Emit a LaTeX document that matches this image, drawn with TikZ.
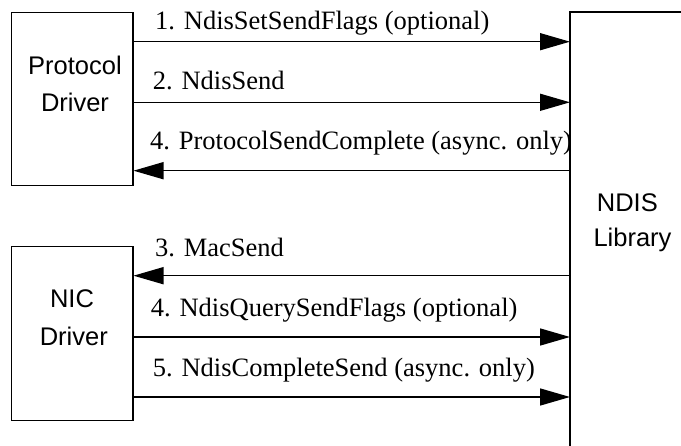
\documentclass[tikz,border=0pt]{standalone}
\usepackage{fontspec}
\setmainfont{Liberation Serif}
\newfontfamily\boxsans{Liberation Sans}
\usetikzlibrary{arrows.meta}
\begin{document}
\begin{tikzpicture}[x=1pt,y=-1pt,
  box/.style={draw, line width=1.5pt, inner sep=0pt, anchor=north west},
  call/.style={line width=1.5pt, -{Triangle[length=30pt,width=17pt]}},
  calltext/.style={anchor=base west, inner sep=0pt, font=\fontsize{26.5}{30}\selectfont},
  boxtext/.style={anchor=base, inner sep=0pt, font=\boxsans\fontsize{25.5}{30}\selectfont}]
\useasboundingbox (0,0) rectangle (681,446);

% the three components
\node[box, minimum width=121.3pt, minimum height=173.3pt] (pd) at (10.7,11.7) {};
\node[box, minimum width=121.3pt, minimum height=174pt] (nic) at (10.7,245.7) {};
\node[inner sep=0pt, anchor=north west, minimum width=120pt, minimum height=440pt] (ndis) at (570,12) {};
\draw[line width=1.5pt] (ndis.north east) -- (ndis.north west) -- (ndis.south west);

\node[boxtext] (pdA) at (75,75) {Protocol};
\node[boxtext] (pdB) at (75,111.7) {Driver};
\node[boxtext] (nicA) at (72,308) {NIC};
\node[boxtext] (nicB) at (73.8,345.7) {Driver};
\node[boxtext] (ndisA) at (627.3,211.7) {NDIS};
\node[boxtext] (ndisB) at (632.5,246.7) {Library};

% calls between protocol driver and NDIS
\draw[call] (pd.east |- 0,41.7) -- (ndis.west |- 0,41.7);
\draw[call] (pd.east |- 0,102.3) -- (ndis.west |- 0,102.3);
\draw[call] (ndis.west |- 0,170.7) -- (pd.east |- 0,170.7);
\node[calltext] (c1) at (155,30) {1. NdisSetSendFlags (optional)};
\node[calltext] (c2) at (152.7,89.3) {2. NdisSend};
\node[calltext] (c4a) at (150,150) {4. ProtocolSendComplete (async. only)};

% calls between NDIS and the NIC driver
\draw[call] (ndis.west |- 0,275.7) -- (nic.east |- 0,275.7);
\draw[call] (nic.east |- 0,337) -- (ndis.west |- 0,337);
\draw[call] (nic.east |- 0,397) -- (ndis.west |- 0,397);
\node[calltext] (c3) at (155,256.3) {3. MacSend};
\node[calltext] (c4b) at (150.7,317) {4. NdisQuerySendFlags (optional)};
\node[calltext] (c5) at (152.7,377) {5. NdisCompleteSend (async. only)};
\end{tikzpicture}
\end{document}
